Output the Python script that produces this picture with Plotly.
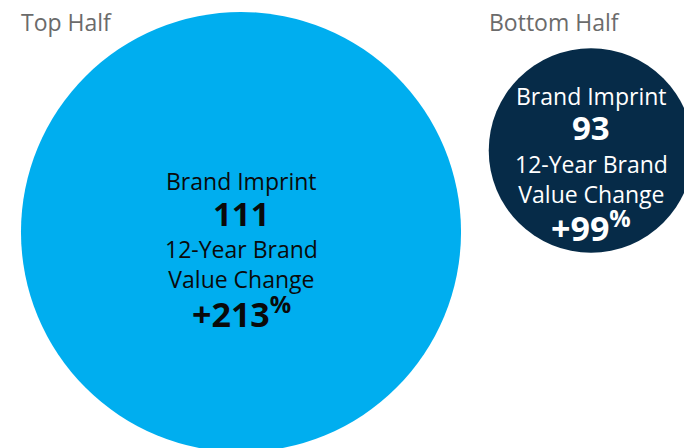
import plotly.graph_objects as go

groups = ["Top Half", "Bottom Half"]
brand_imprint = [111, 93]
value_change = [213, 99]
metric_labels = ["Brand Imprint", "12-Year Brand", "Value Change"]

W, H = 684, 448
colors = ["#00AEEF", "#062B48"]
text_colors = ["#0a0a0a", "#ffffff"]
centers_x = [241, 591]
centers_y = [232, 150.5]
text_shift = [0, -4]
px_per_unit = 2.066  # diameter pixels per % of value change

fig = go.Figure()
fig.add_trace(go.Scatter(
    x=centers_x, y=centers_y, mode="markers",
    marker=dict(size=[v * px_per_unit for v in value_change], color=colors,
                line=dict(width=0), opacity=1),
    hoverinfo="skip", showlegend=False,
))

font = "'Open Sans', sans-serif"
ann = []
title_x = [19, 487]
for i, g in enumerate(groups):
    ann.append(dict(x=title_x[i], y=22, text=g, showarrow=False, xanchor="left",
                    yanchor="middle", font=dict(family=font, size=23, color="#6b6b6b")))
    cx, cy = centers_x[i], centers_y[i] + text_shift[i]
    lines = [
        (metric_labels[0], 23, False, -51),
        (str(brand_imprint[i]), 33, True, -19),
        (metric_labels[1] + "<br>" + metric_labels[2], 23, False, 32),
        ("+%d<sup>%%</sup>" % value_change[i], 34, True, 80),
    ]
    for t, s, b, o in lines:
        ann.append(dict(x=cx, y=cy + o, text=("<b>%s</b>" % t) if b else t,
                        showarrow=False, xanchor="center", yanchor="middle",
                        font=dict(family=font, size=s, color=text_colors[i])))

fig.update_layout(
    width=W, height=H, margin=dict(l=0, r=0, t=0, b=0),
    paper_bgcolor="white", plot_bgcolor="white",
    xaxis=dict(range=[0, W], visible=False, fixedrange=True),
    yaxis=dict(range=[H, 0], visible=False, fixedrange=True),
    annotations=ann,
)
fig.write_html("out.html", config={"displayModeBar": False},
               post_script="document.body.style.margin='0';")
